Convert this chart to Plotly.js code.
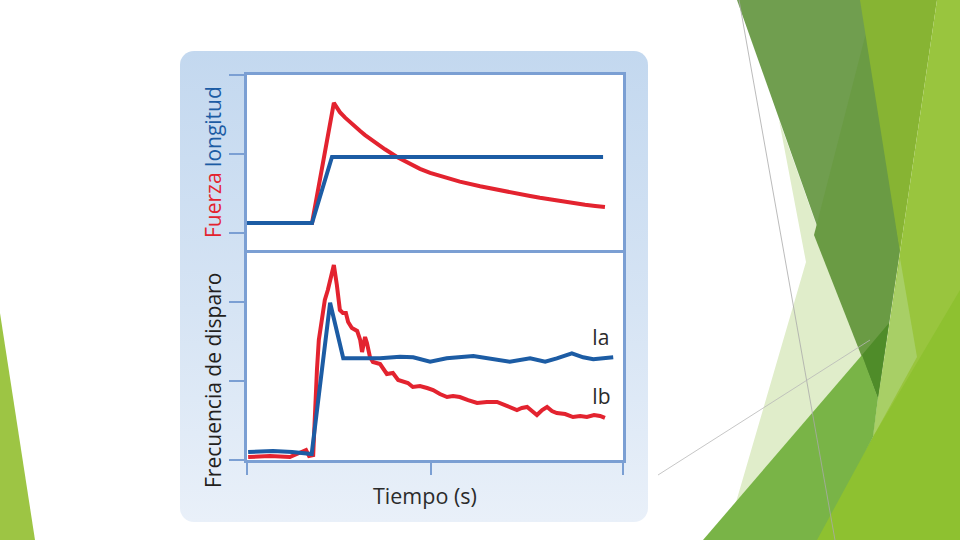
<!DOCTYPE html>
<html>
<head>
<meta charset="utf-8">
<script src="https://cdn.plot.ly/plotly-3.0.1.min.js"></script>
<style>
html,body{margin:0;padding:0;background:#fff;}
#chart{width:960px;height:540px;}
</style>
</head>
<body>
<div id="chart"></div>
<script>
// ---------- DATA (arbitrary units) ----------
// Top panel: Fuerza (red) and longitud (blue)
const fuerzaTime = [0, 1.73, 2.31, 2.39, 2.47, 2.61, 2.74, 2.87, 3.01, 3.14, 3.40, 3.67, 3.99, 4.33, 4.60, 4.87, 5.32, 5.66, 6.20, 6.60, 7.07, 7.53, 7.79, 8.06, 8.40, 8.72, 8.99, 9.26, 9.52];
const fuerzaVals = [0.127, 0.127, 1.646, 1.575, 1.530, 1.460, 1.400, 1.345, 1.290, 1.240, 1.150, 1.060, 0.962, 0.872, 0.812, 0.762, 0.693, 0.650, 0.592, 0.551, 0.508, 0.468, 0.446, 0.424, 0.397, 0.375, 0.358, 0.343, 0.329];
const longitudTime = [0, 1.73, 2.26, 9.47];
const longitudVals = [0.127, 0.127, 0.962, 0.962];

// Bottom panel: firing frequency of Ia (blue) and Ib (red)
const iaTime = [0.03, 0.69, 1.20, 1.72, 2.21, 2.56, 3.18, 3.54, 4.07, 4.42, 4.87, 5.31, 6.02, 6.46, 6.99, 7.53, 7.93, 8.24, 8.64, 8.94, 9.21, 9.74];
const iaVals = [0.101, 0.114, 0.100, 0.076, 1.99, 1.287, 1.287, 1.287, 1.308, 1.300, 1.244, 1.287, 1.316, 1.287, 1.244, 1.287, 1.244, 1.287, 1.351, 1.300, 1.275, 1.300];
const ibTime = [0.03, 0.61, 1.14, 1.49, 1.57, 1.65, 1.76, 1.86, 1.91, 1.99, 2.07, 2.15, 2.23, 2.31, 2.39, 2.47, 2.55, 2.63, 2.69, 2.79, 2.93, 3.01, 3.06, 3.14, 3.19, 3.27, 3.35, 3.54, 3.72, 3.88, 4.02, 4.15, 4.28, 4.41, 4.60, 4.79, 4.95, 5.13, 5.32, 5.48, 5.66, 5.88, 6.12, 6.38, 6.65, 6.91, 7.18, 7.31, 7.45, 7.58, 7.71, 7.85, 7.98, 8.11, 8.24, 8.46, 8.67, 8.86, 9.04, 9.23, 9.39, 9.52];
const ibVals = [0.038, 0.051, 0.038, 0.101, 0.127, 0.051, 0.063, 1.139, 1.519, 1.772, 2.025, 2.152, 2.342, 2.468, 2.215, 1.899, 1.861, 1.861, 1.747, 1.671, 1.633, 1.519, 1.367, 1.557, 1.481, 1.304, 1.241, 1.215, 1.089, 1.101, 1.013, 1.000, 0.975, 0.924, 0.937, 0.911, 0.886, 0.835, 0.797, 0.810, 0.797, 0.759, 0.722, 0.734, 0.734, 0.684, 0.633, 0.658, 0.671, 0.620, 0.570, 0.633, 0.671, 0.620, 0.595, 0.582, 0.544, 0.557, 0.544, 0.570, 0.557, 0.532];

const xTicks = [0, 4.9, 10];
const yTicks = [0, 1, 2];

// ---------- STYLE ----------
const RED = '#e3232f';
const BLUE = '#1c5ca4';
const FRAME = '#7b9fd3';
const W = 960, H = 540;
const px = (x) => x / W;
const py = (y) => 1 - y / H;

function polyPath(pts) {
  return pts.map((p, i) => (i ? 'L' : 'M') + px(p[0]).toFixed(5) + ',' + py(p[1]).toFixed(5)).join(' ') + ' Z';
}
function poly(pts, color, opacity) {
  return {type: 'path', xref: 'paper', yref: 'paper', layer: 'below', path: polyPath(pts),
          fillcolor: color, opacity: opacity === undefined ? 1 : opacity, line: {width: 0}};
}
function seg(a, b, color, w) {
  return {type: 'line', xref: 'paper', yref: 'paper', layer: 'below',
          x0: px(a[0]), y0: py(a[1]), x1: px(b[0]), y1: py(b[1]), line: {color: color, width: w}};
}
function rect(x0, y0, x1, y1, color) {
  return {type: 'rect', xref: 'paper', yref: 'paper', layer: 'below',
          x0: px(x0), y0: py(y1), x1: px(x1), y1: py(y0), fillcolor: color, line: {width: 0}};
}

// slide decoration
const shapes = [
  poly([[779,120],[806,262],[725,540],[880,540],[878,398]], '#e0edca'),
  poly([[737,0],[862,0],[900,250],[878,398]], '#709e4f'),
  poly([[868,25],[900,250],[878,398],[814,235]], '#6a9b44'),
  poly([[860,0],[937,0],[900,252]], '#87b433'),
  poly([[937,0],[960,0],[960,540],[813,540],[873,437],[900,252]], '#99c53e'),
  poly([[900,258],[917,357],[873,437],[878,398]], '#a8cf66'),
  poly([[813,540],[873,437],[960,290],[960,540]], '#8ec130'),
  poly([[703,540],[862,355],[878,398],[873,437],[817,540]], '#79b447'),
  poly([[862,355],[889,323],[878,398]], '#4f8c29'),
  seg([739,0],[835,540], '#a9a9a9', 0.8),
  seg([658,475],[870,340], '#b8b8b8', 0.8),
  poly([[0,313],[35,540],[0,540]], '#9dc544'),
  // white plot areas above the panel image
  rect(247, 75, 623, 253, '#ffffff'),
  rect(247, 253, 623, 460, '#ffffff')
];

const panelSvg = '<svg xmlns="http://www.w3.org/2000/svg" width="468" height="472" viewBox="0 0 468 472">' +
  '<defs><linearGradient id="g" x1="0" y1="0" x2="0" y2="1">' +
  '<stop offset="0" stop-color="#c3d8ef"/><stop offset="0.55" stop-color="#d6e4f4"/><stop offset="1" stop-color="#e9f0f9"/>' +
  '</linearGradient></defs><rect x="0" y="0" width="468" height="472" rx="14" ry="14" fill="url(#g)"/></svg>';

const images = [{
  source: 'data:image/svg+xml;charset=utf-8,' + encodeURIComponent(panelSvg),
  xref: 'paper', yref: 'paper', x: px(180), y: py(51), sizex: 468 / W, sizey: 471 / H,
  sizing: 'stretch', xanchor: 'left', yanchor: 'top', layer: 'below'
}];

const traces = [
  {x: fuerzaTime, y: fuerzaVals, xaxis: 'x2', yaxis: 'y2', mode: 'lines', name: 'Fuerza',
   line: {color: RED, width: 4}, hoverinfo: 'skip'},
  {x: longitudTime, y: longitudVals, xaxis: 'x2', yaxis: 'y2', mode: 'lines', name: 'longitud',
   line: {color: BLUE, width: 4}, hoverinfo: 'skip'},
  {x: ibTime, y: ibVals, xaxis: 'x', yaxis: 'y', mode: 'lines', name: 'Ib',
   line: {color: RED, width: 4}, hoverinfo: 'skip'},
  {x: iaTime, y: iaVals, xaxis: 'x', yaxis: 'y', mode: 'lines', name: 'Ia',
   line: {color: BLUE, width: 4}, hoverinfo: 'skip'}
];

const axisCommon = {showgrid: false, zeroline: false, showticklabels: false, fixedrange: true,
                    showline: true, linecolor: FRAME, linewidth: 3};
const xDom = [px(247), px(623)];

const layout = {
  width: W, height: H,
  margin: {l: 0, r: 0, t: 0, b: 0},
  paper_bgcolor: '#ffffff', plot_bgcolor: 'rgba(0,0,0,0)',
  showlegend: false,
  font: {family: 'Open Sans, sans-serif'},
  xaxis: Object.assign({}, axisCommon, {domain: xDom, range: [0, 10], anchor: 'y', mirror: true,
          ticks: 'outside', ticklen: 12, tickwidth: 2.5, tickcolor: FRAME, tickvals: xTicks,
          title: {text: ''}}),
  yaxis: Object.assign({}, axisCommon, {domain: [py(460), py(253)], range: [0, 2.62], anchor: 'x', mirror: true,
          ticks: 'outside', ticklen: 15, tickwidth: 2.5, tickcolor: FRAME, tickvals: yTicks}),
  xaxis2: Object.assign({}, axisCommon, {domain: xDom, range: [0, 10], anchor: 'y2', side: 'top', mirror: false,
          ticks: ''}),
  yaxis2: Object.assign({}, axisCommon, {domain: [py(253), py(75)], range: [-0.253, 2.0], anchor: 'x2', mirror: true,
          ticks: 'outside', ticklen: 15, tickwidth: 2.5, tickcolor: FRAME, tickvals: yTicks}),
  shapes: shapes,
  images: images,
  annotations: [
    {xref: 'paper', yref: 'paper', x: px(213), y: py(162), textangle: -90, showarrow: false,
     xanchor: 'center', yanchor: 'middle',
     text: '<span style="color:' + RED + '">Fuerza</span> <span style="color:' + BLUE + '">longitud</span>',
     font: {family: 'Open Sans, sans-serif', size: 21, color: BLUE}},
    {xref: 'paper', yref: 'paper', x: px(213), y: py(381), textangle: -90, showarrow: false,
     xanchor: 'center', yanchor: 'middle', text: 'Frecuencia de disparo',
     font: {family: 'Open Sans, sans-serif', size: 21, color: '#231f20'}},
    {xref: 'paper', yref: 'paper', x: px(425), y: py(495), showarrow: false,
     xanchor: 'center', yanchor: 'middle', text: 'Tiempo (s)',
     font: {family: 'Open Sans, sans-serif', size: 21.5, color: '#2b2b2b'}},
    {xref: 'paper', yref: 'paper', x: px(601), y: py(337), showarrow: false,
     xanchor: 'center', yanchor: 'middle', text: 'Ia',
     font: {family: 'Open Sans, sans-serif', size: 21, color: '#2b2b2b'}},
    {xref: 'paper', yref: 'paper', x: px(601), y: py(396), showarrow: false,
     xanchor: 'center', yanchor: 'middle', text: 'Ib',
     font: {family: 'Open Sans, sans-serif', size: 21, color: '#2b2b2b'}}
  ]
};

Plotly.newPlot('chart', traces, layout, {staticPlot: true, displayModeBar: false});
</script>
</body>
</html>
